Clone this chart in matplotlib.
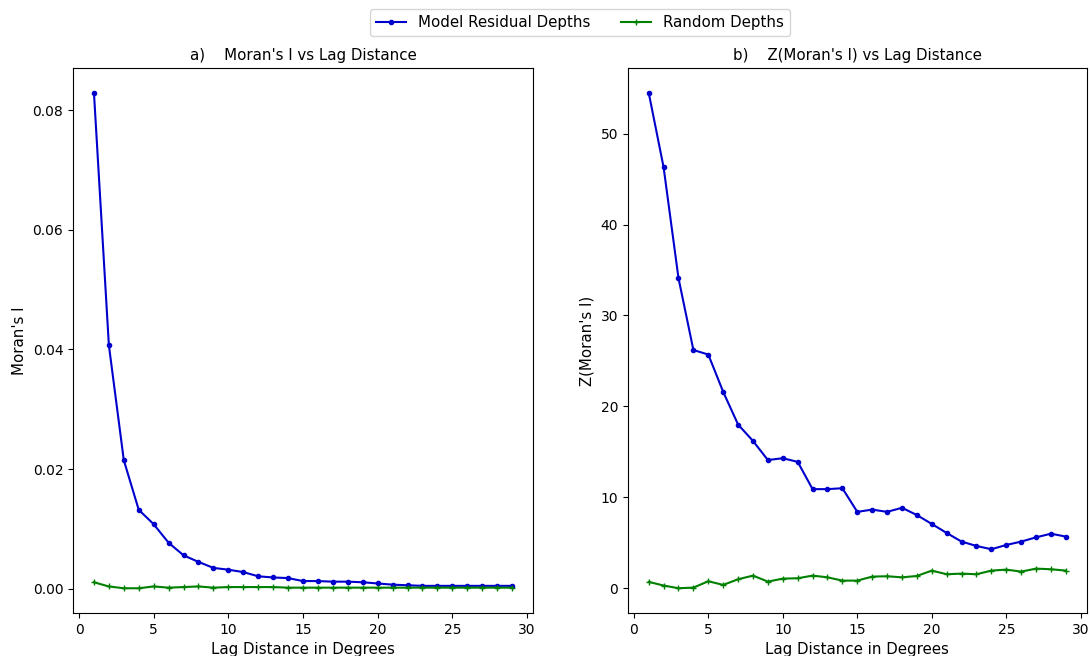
import matplotlib
matplotlib.use("Agg")
import matplotlib.pyplot as plt

lags = list(range(1, 30))
moran_model = [0.0829, 0.0407, 0.0215, 0.0132, 0.0108, 0.0077, 0.0056, 0.0045, 0.0035, 0.0032,
               0.0028, 0.0021, 0.0019, 0.0018, 0.0013, 0.0013, 0.0012, 0.0012, 0.0011, 0.0009,
               0.0007, 0.0006, 0.0005, 0.0005, 0.0005, 0.0005, 0.0005, 0.0005, 0.0005]
moran_random = [0.0011, 0.0004, 0.0001, 0.0001, 0.0004, 0.0002, 0.0003, 0.0004, 0.0002, 0.0003,
                0.0003, 0.0003, 0.0003, 0.0002, 0.0002, 0.0002, 0.0002, 0.0002, 0.0002, 0.0002,
                0.0002, 0.0002, 0.0002, 0.0002, 0.0002, 0.0002, 0.0002, 0.0002, 0.0002]
z_model = [54.5, 46.3, 34.1, 26.2, 25.7, 21.6, 18.0, 16.2, 14.1, 14.3,
           13.9, 10.9, 10.9, 11.0, 8.4, 8.65, 8.4, 8.85, 8.05, 7.07,
           6.08, 5.13, 4.65, 4.29, 4.76, 5.13, 5.6, 6.0, 5.68]
z_random = [0.7, 0.3, 0.0, 0.07, 0.77, 0.37, 0.99, 1.39, 0.73, 1.06,
            1.1, 1.39, 1.2, 0.84, 0.84, 1.28, 1.32, 1.2, 1.35, 1.94,
            1.54, 1.61, 1.54, 1.94, 2.05, 1.83, 2.16, 2.09, 1.94]

fig = plt.figure(figsize=(10.9, 6.56), dpi=100)
ax1 = fig.add_axes([0.067, 0.0655, 0.422, 0.831])
ax2 = fig.add_axes([0.576, 0.0655, 0.421, 0.831])

blue = "#0000cd"
green = "green"
fs = 10.8

l1, = ax1.plot(lags, moran_model, color=blue, marker=".", markersize=6, linewidth=1.5, label="Model Residual Depths")
l2, = ax1.plot(lags, moran_random, color=green, marker="+", markersize=5, linewidth=1.5, label="Random Depths")
ax1.set_title("a)    Moran's I vs Lag Distance", fontsize=fs)
ax1.set_xlabel("Lag Distance in Degrees", fontsize=fs)
ax1.set_ylabel("Moran's I", fontsize=fs)
ax1.set_yticks([0.00, 0.02, 0.04, 0.06, 0.08])

ax2.plot(lags, z_model, color=blue, marker=".", markersize=6, linewidth=1.5)
ax2.plot(lags, z_random, color=green, marker="+", markersize=5, linewidth=1.5)
ax2.set_title("b)    Z(Moran's I) vs Lag Distance", fontsize=fs)
ax2.set_xlabel("Lag Distance in Degrees", fontsize=fs)
ax2.set_ylabel("Z(Moran's I)", fontsize=fs)

for ax in (ax1, ax2):
    ax.set_xticks([0, 5, 10, 15, 20, 25, 30])

fig.legend(handles=[l1, l2], loc="upper center", ncol=2, fontsize=fs,
           bbox_to_anchor=(0.532, 0.997))

fig.savefig("out.png", dpi=100)
